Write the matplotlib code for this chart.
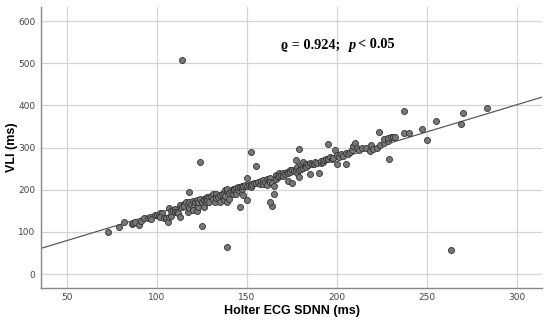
import numpy as np
import matplotlib.pyplot as plt

# Holter ECG SDNN (ms) vs VLI (ms)
sdnn = [73, 79, 82, 86, 87, 88, 90, 91, 93, 95, 96, 97, 99, 100, 101, 102, 103, 102, 104, 105,
        106, 107, 107, 108, 108, 109, 110, 110, 111, 112, 113, 113, 114, 115, 115, 116, 117, 117, 118, 118,
        118, 119, 120, 120, 120, 121, 122, 122, 123, 123, 124, 124, 125, 125, 126, 126, 126, 127, 127, 128,
        128, 129, 129, 130, 131, 131, 132, 133, 133, 133, 134, 135, 135, 136, 137, 137, 138, 138, 139, 139,
        139, 139, 140, 140, 141, 142, 142, 143, 143, 144, 144, 145, 145, 146, 146, 147, 147, 148, 148, 149,
        150, 150, 150, 151, 152, 152, 152, 153, 154, 155, 155, 156, 157, 158, 159, 159, 160, 161, 161, 162,
        163, 163, 164, 164, 163, 165, 165, 166, 166, 167, 168, 168, 169, 170, 170, 171, 172, 173, 173, 174,
        174, 175, 175, 176, 177, 177, 178, 178, 179, 179, 179, 180, 180, 181, 181, 182, 183, 183, 184, 185,
        185, 186, 187, 188, 189, 190, 191, 191, 192, 193, 194, 195, 195, 196, 197, 198, 199, 200, 200, 201,
        202, 203, 205, 205, 206, 207, 208, 209, 210, 211, 212, 214, 216, 218, 219, 220, 222, 223, 224, 226,
        226, 228, 228, 229, 230, 231, 232, 237, 237, 240, 247, 250, 255, 263, 269, 270, 283, 114]
vli = [99, 112, 124, 118, 122, 124, 116, 126, 132, 133, 136, 131, 140, 141, 138, 144, 146, 136, 132, 133,
       124, 136, 156, 138, 149, 151, 154, 147, 148, 144, 136, 163, 158, 167, 161, 170, 148, 165, 171, 195,
       156, 166, 174, 160, 152, 170, 175, 149, 160, 172, 178, 265, 113, 171, 179, 160, 175, 181, 171, 183,
       176, 183, 171, 185, 191, 178, 171, 187, 191, 180, 183, 171, 188, 190, 175, 193, 199, 186, 171, 65,
       197, 203, 179, 193, 196, 203, 189, 199, 203, 191, 204, 199, 207, 158, 207, 203, 210, 187, 209, 212,
       227, 175, 208, 211, 207, 289, 214, 212, 216, 215, 257, 218, 214, 220, 223, 213, 218, 211, 225, 222,
       229, 219, 215, 161, 171, 191, 208, 234, 226, 230, 239, 232, 236, 240, 233, 238, 242, 220, 239, 248,
       243, 215, 246, 244, 270, 248, 253, 239, 246, 231, 296, 258, 250, 266, 252, 256, 262, 254, 258, 264,
       237, 260, 262, 265, 263, 239, 264, 268, 267, 270, 272, 308, 272, 277, 274, 276, 294, 261, 282, 278,
       284, 280, 262, 288, 286, 290, 294, 303, 310, 298, 294, 300, 298, 292, 305, 296, 300, 336, 305, 311,
       320, 315, 322, 274, 324, 325, 324, 386, 335, 335, 345, 319, 364, 58, 355, 381, 394, 507]

# fitted line
fit_x = [35.7, 313.7]
slope, intercept = 1.29, 15

x_ticks = [50, 100, 150, 200, 250, 300]
y_ticks = [0, 100, 200, 300, 400, 500, 600]

fig = plt.figure(figsize=(5.5, 3.25), dpi=100)
ax = fig.add_axes([0.0745, 0.115, 0.911, 0.863])

ax.grid(True, color='#d4d4d4', linewidth=0.9)
ax.set_axisbelow(True)

ax.plot(fit_x, [intercept + slope * v for v in fit_x], color='#5a5a5a', linewidth=0.9, zorder=2)
ax.scatter(sdnn, vli, s=19, facecolor='#777777', edgecolor='#333333', linewidth=0.6, zorder=3)

ax.set_xlim(35.7, 313.7)
ax.set_ylim(-32, 633)
ax.set_xticks(x_ticks)
ax.set_yticks(y_ticks)
ax.tick_params(labelsize=6.5, labelcolor='#444444', length=0, pad=4)

for s in ['top', 'right']:
    ax.spines[s].set_visible(False)
for s in ['left', 'bottom']:
    ax.spines[s].set_color('#888888')
    ax.spines[s].set_linewidth(1.0)

sans = ['Liberation Sans', 'DejaVu Sans']
ax.set_xlabel('Holter ECG SDNN (ms)', fontsize=9, fontweight='bold', family=sans)
ax.set_ylabel('VLI (ms)', fontsize=9, fontweight='bold', family=sans)
ax.xaxis.set_label_coords(0.501, -0.062)
ax.yaxis.set_label_coords(-0.046, 0.5)

# correlation note, placed piece by piece
serif = ['Liberation Serif', 'DejaVu Serif']
fig.canvas.draw()
r = fig.canvas.get_renderer()
x0, y0 = 281, 1 - 45 / 325
parts = [('ϱ = 0.924;', 'normal', 8), ('p', 'italic', 3), ('< 0.05', 'normal', 0)]
for txt, st, gap in parts:
    t = fig.text(x0 / 550, y0, txt, fontsize=10.3, fontweight='bold', style=st,
                 family=serif, va='center', ha='left')
    x0 = t.get_window_extent(r).x1 + gap

fig.savefig('out.png', dpi=100)
